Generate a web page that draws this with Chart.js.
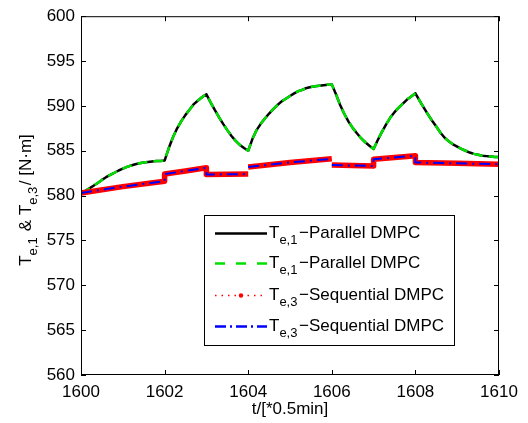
<!DOCTYPE html>
<html>
<head>
<meta charset="utf-8">
<script src="https://cdn.jsdelivr.net/npm/chart.js@4.4.1/dist/chart.umd.min.js"></script>
<style>
  body { margin: 0; background: #fff; }
  #wrap { width: 528px; height: 423px; }
</style>
</head>
<body>
<div id="wrap"><canvas id="te-chart" width="528" height="423"></canvas></div>
<script>
// time axis [*0.5min]
var parallelTime = [
    1600.0, 1600.1, 1600.2, 1600.3, 1600.4, 1600.5, 1600.6, 1600.7, 1600.8, 1600.9,
    1601.0, 1601.1, 1601.2, 1601.3, 1601.4, 1601.5, 1601.6, 1601.7, 1601.8, 1601.9,
    1602.0, 1602.1, 1602.2, 1602.3, 1602.4, 1602.5, 1602.6, 1602.7, 1602.8, 1602.9,
    1603.0, 1603.1, 1603.2, 1603.3, 1603.4, 1603.5, 1603.6, 1603.7, 1603.8, 1603.9,
    1604.0, 1604.1, 1604.2, 1604.3, 1604.4, 1604.5, 1604.6, 1604.7, 1604.8, 1604.9,
    1605.0, 1605.1, 1605.2, 1605.3, 1605.4, 1605.5, 1605.6, 1605.7, 1605.8, 1605.9,
    1606.0, 1606.1, 1606.2, 1606.3, 1606.4, 1606.5, 1606.6, 1606.7, 1606.8, 1606.9,
    1607.0, 1607.1, 1607.2, 1607.3, 1607.4, 1607.5, 1607.6, 1607.7, 1607.8, 1607.9,
    1608.0, 1608.1, 1608.2, 1608.3, 1608.4, 1608.5, 1608.6, 1608.7, 1608.8, 1608.9,
    1609.0, 1609.1, 1609.2, 1609.3, 1609.4, 1609.5, 1609.6, 1609.7, 1609.8, 1609.9,
    1610.0
];
// Te,1 - Parallel DMPC [N*m]
var parallelTe1 = [
    580.3, 580.5, 580.8, 581.1, 581.4, 581.75, 582.05, 582.3, 582.55, 582.8,
    583.0, 583.2, 583.35, 583.5, 583.6, 583.7, 583.75, 583.8, 583.85, 583.85,
    583.9, 585.3, 586.5, 587.5, 588.3, 589.0, 589.6, 590.2, 590.6, 591.0,
    591.3, 590.4, 589.55, 588.75, 588.0, 587.3, 586.65, 586.1, 585.65, 585.3,
    585.0, 586.3, 587.3, 588.0, 588.6, 589.15, 589.65, 590.1, 590.5, 590.8,
    591.1, 591.4, 591.65, 591.8, 592.0, 592.1, 592.2, 592.25, 592.3, 592.35,
    592.4, 591.3, 590.1, 589.1, 588.25, 587.55, 586.95, 586.4, 585.95, 585.55,
    585.2, 586.2, 587.1, 587.95, 588.7, 589.3, 589.8, 590.25, 590.7, 591.05,
    591.4, 590.6, 589.8, 589.05, 588.35, 587.7, 587.0, 586.45, 586.05, 585.7,
    585.45, 585.2, 585.0, 584.8, 584.65, 584.55, 584.45, 584.4, 584.35, 584.3,
    584.3
];
// Te,3 - Sequential DMPC (null = break in the line)
var sequentialTime = [
    1600, 1601, 1602, 1602, 1602.5, 1603, 1603, 1604, 1604,
    1604, 1605, 1606, 1606,
    1606, 1607, 1607, 1608, 1608, 1609, 1610
];
var sequentialTe3 = [
    580.3, 581.0, 581.6, 582.4, 582.75, 583.1, 582.35, 582.4, null,
    583.2, 583.7, 584.1, null,
    583.4, 583.3, 584.05, 584.45, 583.7, 583.6, 583.5
];

var xTicks = [1600, 1602, 1604, 1606, 1608, 1610];
var yTicks = [560, 565, 570, 575, 580, 585, 590, 595, 600];

var legendLabels = [
    { sub: 'e,1', text: '\u2212Parallel DMPC' },
    { sub: 'e,1', text: '\u2212Parallel DMPC' },
    { sub: 'e,3', text: '\u2212Sequential DMPC' },
    { sub: 'e,3', text: '\u2212Sequential DMPC' }
];

var FONT = '"Liberation Sans", Arial, sans-serif';
var TeChart;

function toPoints(xs, ys) {
    var pts = [];
    for (var i = 0; i < xs.length; i++) {
        pts.push({ x: xs[i], y: ys[i] });
    }
    return pts;
}

// T with subscript + trailing text, returns width
function drawRich(ctx, parts, x, y, measureOnly) {
    var cx = x;
    for (var i = 0; i < parts.length; i++) {
        var p = parts[i];
        ctx.font = (p.sub ? '13px ' : '17px ') + FONT;
        if (!measureOnly) {
            ctx.fillText(p.t, cx, p.sub ? y + 6 : y);
        }
        cx += ctx.measureText(p.t).width + (p.sub ? 1.5 : 0);
    }
    return cx - x;
}

var decorPlugin = {
    id: 'decor',
    afterDraw: function (chart) {
        var ctx = chart.ctx;
        var a = chart.chartArea;
        var xs = chart.scales.x, ys = chart.scales.y;
        ctx.save();

        // box + inward ticks
        ctx.strokeStyle = '#000';
        ctx.lineWidth = 1;
        ctx.strokeRect(a.left + 0.5, a.top + 0.5, a.right - a.left - 1, a.bottom - a.top - 1);
        ctx.beginPath();
        xTicks.forEach(function (v) {
            var px = Math.round(xs.getPixelForValue(v)) + 0.5;
            ctx.moveTo(px, a.bottom); ctx.lineTo(px, a.bottom - 5);
            ctx.moveTo(px, a.top); ctx.lineTo(px, a.top + 5);
        });
        yTicks.forEach(function (v) {
            var py = Math.round(ys.getPixelForValue(v)) + 0.5;
            ctx.moveTo(a.left, py); ctx.lineTo(a.left + 5, py);
            ctx.moveTo(a.right, py); ctx.lineTo(a.right - 5, py);
        });
        ctx.stroke();

        ctx.fillStyle = '#000';
        ctx.textBaseline = 'alphabetic';

        // x title
        ctx.font = '17px ' + FONT;
        ctx.textAlign = 'center';
        ctx.fillText('t/[*0.5min]', (a.left + a.right) / 2, 414);

        // y title (rotated)
        ctx.textAlign = 'left';
        var yParts = [
            { t: 'T' }, { t: 'e,1', sub: true }, { t: ' & T' }, { t: 'e,3', sub: true }, { t: '/ [N\u00b7m]' }
        ];
        ctx.save();
        ctx.translate(31, 200);
        ctx.rotate(-Math.PI / 2);
        var w = drawRich(ctx, yParts, 0, 0, true);
        drawRich(ctx, yParts, -w / 2, 0, false);
        ctx.restore();

        // legend
        var lx = 204, ly = 215, lw = 250, lh = 130;
        ctx.fillStyle = '#fff';
        ctx.fillRect(lx, ly, lw, lh);
        ctx.strokeStyle = '#000';
        ctx.strokeRect(lx + 0.5, ly + 0.5, lw, lh);
        var rows = [233, 263, 295, 326];
        var ds = chart.data.datasets;
        for (var i = 0; i < legendLabels.length; i++) {
            var ry = rows[i];
            ctx.save();
            ctx.strokeStyle = ds[i].borderColor;
            ctx.lineWidth = ds[i].legendWidth;
            ctx.setLineDash(ds[i].legendDash);
            ctx.beginPath();
            ctx.moveTo(215, ry + 0.5); ctx.lineTo(267, ry + 0.5);
            ctx.stroke();
            if (ds[i].legendDot) {
                ctx.fillStyle = ds[i].borderColor;
                ctx.beginPath();
                ctx.arc(241, ry + 0.5, 2.2, 0, Math.PI * 2);
                ctx.fill();
            }
            ctx.restore();
            ctx.fillStyle = '#000';
            drawRich(ctx, [{ t: 'T' }, { t: legendLabels[i].sub, sub: true }, { t: legendLabels[i].text }], 269, ry + 5, false);
        }
        ctx.restore();
    }
};

function LoadTeChart() {
    var ctx = document.getElementById('te-chart');
    if (TeChart) {
        TeChart.destroy();
    }
    TeChart = new Chart(ctx, {
        type: 'line',
        data: {
            datasets: [
                {
                    label: 'Te,1-Parallel DMPC',
                    data: toPoints(parallelTime, parallelTe1),
                    borderColor: '#000000',
                    borderWidth: 2.5,
                    legendWidth: 2.5, legendDash: [],
                    order: 4
                },
                {
                    label: 'Te,1-Parallel DMPC',
                    data: toPoints(parallelTime, parallelTe1),
                    borderColor: '#00e000',
                    borderWidth: 2.5,
                    borderDash: [10, 6],
                    legendWidth: 2.5, legendDash: [10, 11],
                    order: 3
                },
                {
                    label: 'Te,3-Sequential DMPC',
                    data: toPoints(sequentialTime, sequentialTe3),
                    borderColor: '#ff0000',
                    borderWidth: 5.5,
                    legendWidth: 1.5, legendDash: [1.5, 5],
                    legendDot: true,
                    order: 2
                },
                {
                    label: 'Te,3-Sequential DMPC',
                    data: toPoints(sequentialTime, sequentialTe3),
                    borderColor: '#0000ff',
                    borderWidth: 2,
                    borderDash: [11, 5, 2, 5],
                    legendWidth: 2.5, legendDash: [11, 4, 2, 4],
                    order: 1
                }
            ]
        },
        plugins: [decorPlugin],
        options: {
            responsive: false,
            animation: false,
            spanGaps: false,
            elements: {
                point: { radius: 0, hoverRadius: 0 },
                line: { tension: 0, borderCapStyle: 'butt', borderJoinStyle: 'round' }
            },
            layout: { padding: { left: 0, top: 14, right: 29, bottom: 0 } },
            plugins: {
                legend: { display: false },
                tooltip: { enabled: false }
            },
            scales: {
                x: {
                    type: 'linear',
                    min: 1600,
                    max: 1610,
                    afterFit: function (scale) { scale.height = 48; },
                    afterBuildTicks: function (scale) {
                        scale.ticks = xTicks.map(function (v) { return { value: v }; });
                    },
                    grid: { display: false, drawTicks: false },
                    border: { display: false },
                    ticks: {
                        padding: 7,
                        color: '#000',
                        font: { family: FONT, size: 17 },
                        callback: function (v) { return String(v); }
                    }
                },
                y: {
                    type: 'linear',
                    min: 560,
                    max: 600,
                    afterFit: function (scale) { scale.width = 81; },
                    afterBuildTicks: function (scale) {
                        scale.ticks = yTicks.map(function (v) { return { value: v }; });
                    },
                    grid: { display: false, drawTicks: false },
                    border: { display: false },
                    ticks: {
                        padding: 6,
                        color: '#000',
                        font: { family: FONT, size: 17 },
                        callback: function (v) { return String(v); }
                    }
                }
            }
        }
    });
}

LoadTeChart();
</script>
</body>
</html>
